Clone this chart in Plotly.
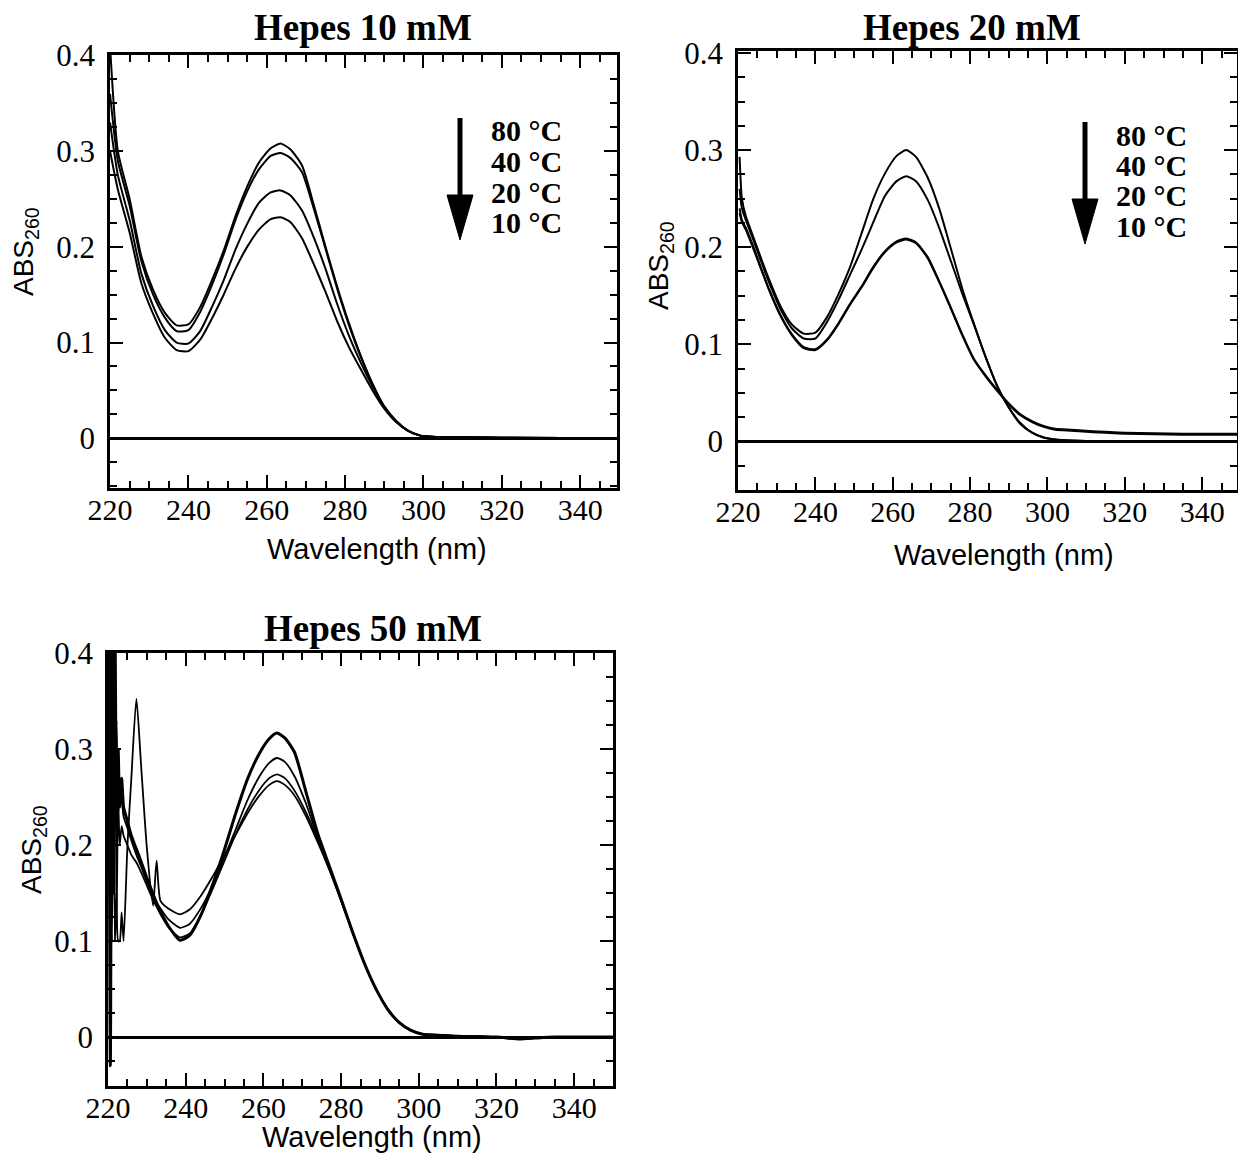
import plotly.graph_objects as go

# ---- data (absorbance vs wavelength, nm) ----
TEMPS = ["80 °C", "40 °C", "20 °C", "10 °C"]

# Hepes 10 mM
W_10 = [220, 222, 225, 228, 231, 234, 237, 240, 243, 246, 249, 252, 255, 258, 261, 263.5,
        266, 269, 272, 275, 278, 281, 284, 287, 290, 293, 296, 299, 302, 310, 320, 350]
A10_80C = [0.41, 0.30, 0.25, 0.19, 0.155, 0.131, 0.118, 0.119, 0.137, 0.165, 0.196, 0.232, 0.263, 0.288, 0.303, 0.308,
           0.302, 0.285, 0.244, 0.200, 0.158, 0.120, 0.086, 0.057, 0.033, 0.018, 0.008, 0.003, 0.0015, 0.001, 0.0005, 0.0]
A10_40C = [0.36, 0.29, 0.243, 0.185, 0.150, 0.126, 0.112, 0.113, 0.132, 0.160, 0.192, 0.228, 0.258, 0.281, 0.295, 0.298,
           0.293, 0.278, 0.240, 0.198, 0.156, 0.118, 0.085, 0.056, 0.033, 0.018, 0.008, 0.003, 0.0015, 0.001, 0.0005, 0.0]
A10_20C = [0.33, 0.275, 0.228, 0.172, 0.138, 0.113, 0.100, 0.099, 0.112, 0.137, 0.165, 0.197, 0.224, 0.246, 0.257, 0.259,
           0.254, 0.238, 0.210, 0.177, 0.140, 0.107, 0.079, 0.054, 0.033, 0.018, 0.008, 0.003, 0.0015, 0.001, 0.0005, 0.0]
A10_10C = [0.30, 0.26, 0.215, 0.162, 0.130, 0.105, 0.092, 0.091, 0.103, 0.125, 0.150, 0.177, 0.200, 0.218, 0.229, 0.231,
           0.226, 0.209, 0.182, 0.153, 0.122, 0.095, 0.072, 0.050, 0.031, 0.017, 0.008, 0.003, 0.0015, 0.001, 0.0005, 0.0]

# Hepes 20 mM
W_20 = [220.4, 221, 222, 224, 226, 228, 231, 234, 237, 240, 243, 246, 249, 252, 255, 258, 261, 263.5,
        266, 269, 272, 275, 278, 281, 284, 287, 290, 293, 296, 299, 302, 306, 310, 320, 335, 350]
A20_80C = [0.293, 0.25, 0.232, 0.21, 0.188, 0.167, 0.139, 0.120, 0.111, 0.112, 0.128, 0.152, 0.180, 0.215, 0.250, 0.276, 0.294, 0.300,
           0.293, 0.272, 0.240, 0.199, 0.157, 0.121, 0.087, 0.057, 0.035, 0.019, 0.009, 0.004, 0.002, 0.001, 0.0005, 0.0, 0.0, 0.0]
A20_40C = [0.26, 0.24, 0.228, 0.207, 0.185, 0.164, 0.136, 0.116, 0.106, 0.106, 0.123, 0.146, 0.172, 0.198, 0.226, 0.253, 0.268, 0.273,
           0.268, 0.249, 0.220, 0.186, 0.152, 0.120, 0.087, 0.057, 0.035, 0.018, 0.009, 0.004, 0.002, 0.001, 0.0005, 0.0, 0.0, 0.0]
A20_20C = [0.24, 0.228, 0.220, 0.200, 0.178, 0.157, 0.130, 0.110, 0.097, 0.095, 0.105, 0.122, 0.142, 0.160, 0.180, 0.196, 0.206, 0.209,
           0.205, 0.190, 0.165, 0.138, 0.110, 0.085, 0.068, 0.053, 0.039, 0.028, 0.021, 0.016, 0.013, 0.012, 0.011, 0.009, 0.008, 0.008]
A20_10C = [0.235, 0.226, 0.218, 0.198, 0.177, 0.156, 0.129, 0.109, 0.096, 0.094, 0.104, 0.121, 0.141, 0.159, 0.179, 0.195, 0.205, 0.208,
           0.204, 0.189, 0.164, 0.137, 0.109, 0.084, 0.067, 0.052, 0.038, 0.027, 0.020, 0.015, 0.012, 0.011, 0.010, 0.008, 0.007, 0.007]

# Hepes 50 mM (noisy below ~234 nm)
W_50 = [220.2, 220.6, 221.0, 221.4, 221.8, 222.2, 222.6, 223.0, 223.5, 224.0,
        225.0, 226.0, 227.3, 228.5, 230.0, 231.6, 232.5, 233.5, 235.5, 238.5,
        241, 244, 247, 250, 253, 256, 259, 261.5, 263.5, 265.5,
        268, 271, 274, 277, 280, 283, 286, 289, 292, 295,
        298, 301, 305, 310, 320, 326, 330, 335, 350]
A50_1 = [0.42, -0.03, 0.42, 0.15, 0.42, 0.22, 0.30, 0.24, 0.27, 0.24,
         0.225, 0.21, 0.196, 0.183, 0.166, 0.149, 0.140, 0.131, 0.116, 0.101,
         0.106, 0.128, 0.160, 0.196, 0.235, 0.270, 0.296, 0.311, 0.317, 0.312,
         0.297, 0.255, 0.212, 0.178, 0.144, 0.109, 0.077, 0.050, 0.029, 0.015,
         0.007, 0.003, 0.002, 0.001, 0.0, -0.002, -0.001, 0.0, 0.0]
A50_2 = [0.30, 0.38, 0.20, 0.35, 0.26, 0.33, 0.23, 0.27, 0.25, 0.23,
         0.218, 0.205, 0.190, 0.178, 0.162, 0.147, 0.140, 0.134, 0.123, 0.114,
         0.118, 0.135, 0.159, 0.188, 0.218, 0.248, 0.272, 0.286, 0.291, 0.287,
         0.272, 0.243, 0.208, 0.176, 0.143, 0.109, 0.077, 0.050, 0.029, 0.015,
         0.007, 0.003, 0.002, 0.001, 0.0, -0.002, -0.001, 0.0, 0.0]
A50_3 = [0.26, 0.10, 0.30, 0.22, 0.40, 0.12, 0.25, 0.20, 0.22, 0.21,
         0.200, 0.190, 0.182, 0.172, 0.158, 0.143, 0.136, 0.128, 0.115, 0.104,
         0.108, 0.128, 0.155, 0.184, 0.213, 0.238, 0.258, 0.270, 0.274, 0.270,
         0.257, 0.234, 0.206, 0.175, 0.143, 0.109, 0.077, 0.050, 0.029, 0.015,
         0.007, 0.003, 0.002, 0.001, 0.0, -0.002, -0.001, 0.0, 0.0]
A50_4 = [0.20, 0.28, 0.10, 0.27, 0.10, 0.15, 0.10, 0.10, 0.13, 0.10,
         0.200, 0.270, 0.353, 0.284, 0.197, 0.137, 0.184, 0.142, 0.134, 0.128,
         0.133, 0.148, 0.168, 0.190, 0.212, 0.234, 0.252, 0.263, 0.267, 0.263,
         0.252, 0.230, 0.203, 0.174, 0.142, 0.108, 0.076, 0.050, 0.029, 0.015,
         0.007, 0.003, 0.002, 0.001, 0.0, -0.002, -0.001, 0.0, 0.0]

X_TICKS = [220, 240, 260, 280, 300, 320, 340]
Y_TICKS = [0, 0.1, 0.2, 0.3, 0.4]
Y_TICKTEXT = ["0", "0.1", "0.2", "0.3", "0.4"]

# the page body keeps its default 8 px margin, so the figure is sized to fit
# inside the window and all positions below are page pixels
OFF = 8
FIG_W, FIG_H = 1246 - 2 * OFF, 1164 - 2 * OFF
SERIF = "Liberation Serif"
SANS = "Liberation Sans"


def fx(p):
    return (p - OFF) / FIG_W


def fy(p):
    return 1 - (p - OFF) / FIG_H


def xaxis(left, right, anchor, hi):
    return dict(
        domain=[fx(left), fx(right)], anchor=anchor, range=[219.99, hi], automargin=False,
        tickmode="array", tickvals=X_TICKS, ticks="inside", ticklen=13, tickwidth=2,
        tickcolor="black", mirror="ticks", showline=True, linewidth=2.5, linecolor="black",
        showgrid=False, zeroline=False, ticklabelstandoff=-7,
        tickfont=dict(family=SERIF, size=30, color="black"),
        minor=dict(ticks="inside", ticklen=7, tickwidth=2, tickcolor="black",
                   tickmode="linear", tick0=220, dtick=5, showgrid=False),
    )


def yaxis(top, bottom, anchor, lo=-0.051, hi=0.4005):
    return dict(
        domain=[fy(bottom), fy(top)], anchor=anchor, range=[lo, hi], automargin=False,
        tickmode="array", tickvals=Y_TICKS, ticktext=Y_TICKTEXT, ticks="inside",
        ticklen=13, tickwidth=2, tickcolor="black", mirror="ticks", showline=True,
        linewidth=2.5, linecolor="black", showgrid=False,
        zeroline=True, zerolinecolor="black", zerolinewidth=2.5, ticklabelstandoff=6,
        tickfont=dict(family=SERIF, size=31, color="black"),
        minor=dict(ticks="inside", ticklen=7, tickwidth=2, tickcolor="black",
                   tickmode="linear", tick0=0, dtick=0.025, showgrid=False),
    )


fig = go.Figure()

panels = [
    ("x", "y", W_10, [A10_80C, A10_40C, A10_20C, A10_10C], TEMPS),
    ("x2", "y2", W_20, [A20_80C, A20_40C, A20_20C, A20_10C], TEMPS),
    ("x3", "y3", W_50, [A50_1, A50_2, A50_3, A50_4], ["run 1", "run 2", "run 3", "run 4"]),
]
for xa, ya, wl, series, names in panels:
    for i, (vals, name) in enumerate(zip(series, names)):
        lw = 2
        if xa == "x3":
            lw = 3 if i == 0 else 1.8
        fig.add_trace(go.Scatter(
            x=wl, y=vals, mode="lines", name=name, xaxis=xa, yaxis=ya,
            line=dict(color="black", width=lw, shape="spline", smoothing=0.6),
            showlegend=False,
        ))

fig.update_layout(
    template="none",
    width=FIG_W, height=FIG_H, margin=dict(l=0, r=0, t=0, b=0, autoexpand=False),
    paper_bgcolor="white", plot_bgcolor="white", showlegend=False,
    font=dict(family=SERIF, color="black"),
    xaxis=xaxis(110, 617, "y", 349.4), yaxis=yaxis(55, 488, "x", lo=-0.052, hi=0.4005),
    xaxis2=xaxis(738, 1237, "y2", 349.0), yaxis2=yaxis(51, 490, "x2", lo=-0.05, hi=0.402),
    xaxis3=xaxis(108, 613, "y3", 350.0), yaxis3=yaxis(653, 1086, "x3", lo=-0.051, hi=0.4005),
)

annotations = []
# panel titles
for text, cx, cy in [("Hepes 10 mM", 363, 27), ("Hepes 20 mM", 972, 27), ("Hepes 50 mM", 373, 628)]:
    annotations.append(dict(text=f"<b>{text}</b>", x=fx(cx), y=fy(cy), xref="paper", yref="paper",
                            showarrow=False, xanchor="center", yanchor="middle",
                            font=dict(family=SERIF, size=37, color="black")))
# axis titles
for cx, cy in [(377, 549), (1004, 555), (372, 1137)]:
    annotations.append(dict(text="Wavelength (nm)", x=fx(cx), y=fy(cy), xref="paper", yref="paper",
                            showarrow=False, xanchor="center", yanchor="middle",
                            font=dict(family=SANS, size=29, color="black")))
for cx, cy in [(25, 252), (660, 265), (33, 850)]:
    annotations.append(dict(text="ABS<sub>260</sub>", x=fx(cx), y=fy(cy), xref="paper", yref="paper",
                            showarrow=False, xanchor="center", yanchor="middle", textangle=-90,
                            font=dict(family=SANS, size=28, color="black")))
# temperature keys with arrows
shapes = []
for ax_x, top, tx, ty0 in [(460, 118, 489, 131), (1085, 122, 1114, 135)]:
    for k, t in enumerate(TEMPS):
        annotations.append(dict(text=f"<b>{t}</b>", x=fx(tx), y=fy(ty0 + k * 30.5), xref="paper", yref="paper",
                                showarrow=False, xanchor="left", yanchor="middle",
                                font=dict(family=SERIF, size=30, color="black")))
    shapes.append(dict(type="line", xref="paper", yref="paper", x0=fx(ax_x), x1=fx(ax_x),
                       y0=fy(top), y1=fy(top + 82), line=dict(color="black", width=5)))
    path = (f"M {fx(ax_x - 13)} {fy(top + 77)} L {fx(ax_x + 13)} {fy(top + 77)} "
            f"L {fx(ax_x)} {fy(top + 122)} Z")
    shapes.append(dict(type="path", xref="paper", yref="paper", path=path,
                       fillcolor="black", line=dict(color="black", width=1)))

fig.update_layout(annotations=annotations, shapes=shapes)
fig.write_html("out.html")
